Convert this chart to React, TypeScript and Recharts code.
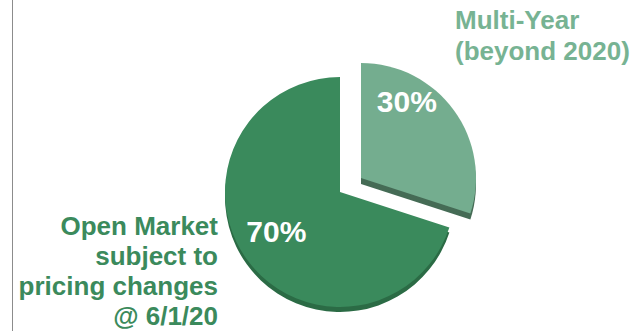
import { PieChart, Pie, Cell } from 'recharts';

const categories = ['Multi-Year', 'Open Market'];
const shares = [30, 70];
const labelLines = [
  ['Multi-Year', '(beyond 2020)'],
  ['Open Market', 'subject to', 'pricing changes', '@ 6/1/20'],
];

const FACE = ['#74ad8f', '#3a8a5c'];
const SIDE = ['#456b55', '#2b6b45'];
const TEXT = ['#77b393', '#3b8a5c'];
const FONT = '"Liberation Sans", Arial, sans-serif';

const data = categories.map((name, i) => ({ name, value: shares[i] }));

// center of the whole pie and where the exploded slice is pulled to
const CX = 340;
const CY = 192;
const R = 115;
const EX = 21;
const EY = -14;
const DEPTH = 5;

// percent label placement (radius, angle) per slice, relative to its own center
const PCT_POS = [
  { r: 89, a: 59 },
  { r: 75, a: 212 },
];

const renderPct = (only: number) => (props: any) => {
  const { cx, cy, percent, index } = props;
  if (index !== only) return null;
  const p = PCT_POS[index];
  const rad = (p.a * Math.PI) / 180;
  return (
    <text
      x={cx + p.r * Math.cos(rad)}
      y={cy - p.r * Math.sin(rad)}
      fill="#fff"
      fontSize={30}
      fontWeight="bold"
      fontFamily={FONT}
      textAnchor="middle"
      dominantBaseline="central"
    >
      {`${(percent * 100).toFixed(0)}%`}
    </text>
  );
};

const slicePie = (
  key: string,
  cx: number,
  cy: number,
  keep: number,
  colors: string[],
  withLabel: boolean
) => (
  <Pie
    key={key}
    data={data}
    dataKey="value"
    cx={cx}
    cy={cy}
    outerRadius={R}
    startAngle={90}
    endAngle={-270}
    stroke="none"
    isAnimationActive={false}
    label={withLabel ? renderPct(keep) : false}
    labelLine={false}
  >
    {data.map((_, i) => (
      <Cell key={`c-${i}`} fill={i === keep ? colors[i] : 'none'} />
    ))}
  </Pie>
);

export default function App() {
  return (
    <div style={{ position: 'absolute', left: 0, top: 0, width: 641, height: 333, background: '#fff' }}>
      <div
        style={{
          position: 'absolute',
          left: 12,
          top: 0,
          width: 0,
          height: 331,
          borderLeft: '1.5px solid #8c8c8c',
        }}
      />
      <PieChart width={641} height={333} margin={{ top: 0, right: 0, bottom: 0, left: 0 }}>
        {slicePie('side-1', CX, CY + DEPTH, 1, SIDE, false)}
        {slicePie('face-1', CX, CY, 1, FACE, true)}
        {slicePie('side-0', CX + EX, CY + EY + DEPTH + 1, 0, SIDE, false)}
        {slicePie('face-0', CX + EX, CY + EY, 0, FACE, true)}
      </PieChart>
      <div
        style={{
          position: 'absolute',
          left: 455,
          top: 5,
          fontFamily: FONT,
          fontWeight: 'bold',
          fontSize: 26,
          lineHeight: '31px',
          color: TEXT[0],
          whiteSpace: 'nowrap',
        }}
      >
        {labelLines[0].map((t) => (
          <div key={t}>{t}</div>
        ))}
      </div>
      <div
        style={{
          position: 'absolute',
          right: 641 - 218,
          top: 211,
          fontFamily: FONT,
          fontWeight: 'bold',
          fontSize: 26,
          lineHeight: '30px',
          color: TEXT[1],
          textAlign: 'right',
          whiteSpace: 'nowrap',
        }}
      >
        {labelLines[1].map((t) => (
          <div key={t}>{t}</div>
        ))}
      </div>
    </div>
  );
}
